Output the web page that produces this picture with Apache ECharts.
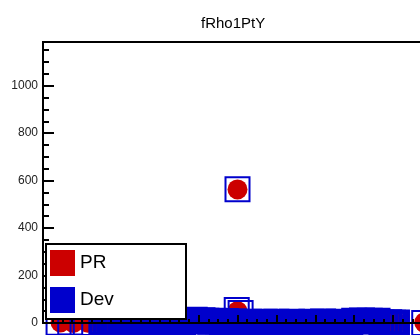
<!DOCTYPE html>
<html lang="en">
<head>
<meta charset="UTF-8">
<title>fRho1PtY</title>
<script src="https://cdn.jsdelivr.net/npm/echarts@6/dist/echarts.min.js"></script>
<style>
	* { margin: 0; padding: 0; }
	body, html, #main { width: 420px; height: 335px; background: #fff; }
</style>
</head>
<body>
<div id="main"></div>
<script>
	// dense part: first bin centre and bin width (x axis units)
	const binStart = 1.5;
	const binStep = 0.1;

	// bin contents, x = 1.5 .. 9.1
	const devBins = [
		3, 1, 4, 2, 5, 0, 3, 6, 2, 4,
		1, 5, 3, 7, 2, 4, 6, 1, 5, 3,
		8, 4, 13, 8, 14, 6, 12, 10, 5, 9,
		7, 3, 8, 4, 6, 5, 4, 2, 5, 3,
		4, 1, 5, 2, 3, 5, 1, 4, 2, 5,
		3, 0, 4, 2, 5, 3, 1, 6, 2, 4,
		3, 5, 1, 4, 2, 10, 6, 11, 8, 10,
		7, 9, 2, 0, 3, 1, 2
	];
	const prBins = [
		2, 0, 3, 1, 4, 1, 2, 5, 1, 3,
		0, 4, 2, 6, 1, 3, 5, 0, 4, 2,
		6, 3, 11, 7, 12, 5, 10, 8, 4, 7,
		5, 2, 6, 3, 5, 4, 3, 1, 4, 2,
		3, 0, 4, 1, 2, 4, 0, 3, 1, 4,
		2, 0, 3, 1, 4, 2, 0, 5, 1, 3,
		2, 4, 0, 3, 1, 8, 5, 9, 7, 8,
		6, 7, 1, 0, 2, 0, 1
	];

	// isolated points [x, y]
	const devExtra = [[0.4, 1], [0.7, 2], [1.1, 0], [4.98, 55], [5.08, 42], [5.0, 564], [9.8, 0]];
	const prExtra = [[0.45, 2], [0.78, 0], [1.15, 1], [5.0, 50], [5.0, 563], [9.8, 2]];

	const font = 'Liberation Sans';
	const red = '#cc0000';
	const blue = '#0000cc';

	const devData = devBins.map((v, i) => [+(binStart + i * binStep).toFixed(2), v]);
	const prData = prBins.map((v, i) => [+(binStart + i * binStep).toFixed(2), v]);
	devExtra.forEach(p => devData.push({ value: p, symbolSize: 24, itemStyle: { borderWidth: 2 } }));
	prExtra.forEach(p => prData.push(p));

	const myChart = echarts.init(document.getElementById('main'));
	const option = {
		animation: false,
		backgroundColor: '#fff',
		title: {
			text: 'fRho1PtY',
			left: 196,
			top: 11,
			textStyle: { fontSize: 15, fontWeight: 'normal', color: '#000', fontFamily: font }
		},
		legend: {
			left: 50,
			top: 250,
			orient: 'vertical',
			itemWidth: 25,
			itemHeight: 26,
			itemGap: 11,
			padding: 0,
			z: 60,
			selectedMode: false,
			textStyle: { fontSize: 19, color: '#000', fontFamily: font },
			data: [
				{ name: 'PR', icon: 'rect', itemStyle: { color: red, borderWidth: 0 } },
				{ name: 'Dev', icon: 'rect', itemStyle: { color: blue, borderColor: blue, borderWidth: 0 } }
			]
		},
		graphic: {
			elements: [{
				type: 'rect',
				left: 45,
				top: 243,
				z: 50,
				shape: { width: 140, height: 75 },
				style: { fill: '#fff', stroke: '#000', lineWidth: 2 }
			}]
		},
		// frame runs past the right edge of the picture
		grid: {
			left: 43,
			top: 42,
			width: 389,
			height: 281,
			outerBoundsMode: 'none',
			containLabel: false,
			show: true,
			borderColor: '#000',
			borderWidth: 2,
			backgroundColor: '#fff'
		},
		xAxis: {
			type: 'value',
			min: 0,
			max: 10,
			interval: 1,
			z: 10,
			axisLine: { onZero: false, lineStyle: { color: '#000', width: 2 } },
			axisTick: { inside: true, length: 8, lineStyle: { color: '#000', width: 2 } },
			minorTick: { show: true, splitNumber: 4, length: 4, lineStyle: { color: '#000', width: 2 } },
			axisLabel: { show: false },
			splitLine: { show: false }
		},
		yAxis: {
			type: 'value',
			min: 0,
			max: 1184,
			interval: 200,
			z: 10,
			axisLine: { show: true, lineStyle: { color: '#000', width: 2 } },
			axisTick: { inside: true, length: 11, lineStyle: { color: '#000', width: 2 } },
			minorTick: { show: true, splitNumber: 4, length: 6, lineStyle: { color: '#000', width: 2 } },
			axisLabel: {
				margin: 5,
				fontSize: 12,
				color: '#222',
				fontFamily: font,
				showMaxLabel: false,
				formatter: v => String(v)
			},
			splitLine: { show: false }
		},
		series: [
			{
				name: 'PR',
				type: 'scatter',
				symbol: 'circle',
				symbolSize: 20,
				clip: false,
				z: 2,
				itemStyle: { color: red, opacity: 1 },
				emphasis: { disabled: true },
				data: prData
			},
			{
				name: 'Dev',
				type: 'scatter',
				symbol: 'rect',
				symbolSize: 22,
				clip: false,
				z: 3,
				itemStyle: { color: 'rgba(0,0,0,0)', borderColor: blue, borderWidth: 4, opacity: 1 },
				emphasis: { disabled: true },
				data: devData
			}
		]
	};
	myChart.setOption(option);
</script>
</body>
</html>
